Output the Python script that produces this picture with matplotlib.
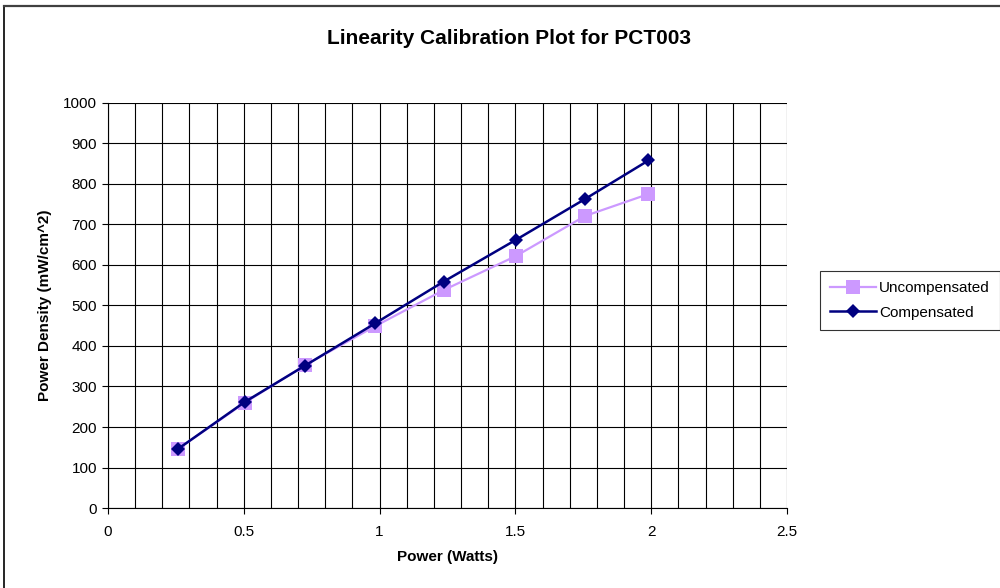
import matplotlib
matplotlib.use("Agg")
import matplotlib.pyplot as plt
from matplotlib.lines import Line2D
from matplotlib.ticker import MultipleLocator

plt.rcParams['font.family'] = ['Liberation Sans', 'DejaVu Sans']

# --- DATA ---
power_watts = [0.256, 0.504, 0.724, 0.984, 1.236, 1.502, 1.757, 1.990]
uncompensated = [145, 260, 352, 449, 538, 622, 721, 775]
compensated = [145, 262, 351, 456, 559, 662, 763, 858]

TITLE = "Linearity Calibration Plot for PCT003"
XLABEL = "Power (Watts)"
YLABEL = "Power Density (mW/cm^2)"

fig = plt.figure(figsize=(10, 5.88), dpi=100)
ax = fig.add_axes([0.108, 0.136, 0.679, 0.689])

# Excel-like grid: every 0.1 W and every 100 mW/cm^2
ax.set_xlim(0, 2.5)
ax.set_ylim(0, 1000)
ax.xaxis.set_major_locator(MultipleLocator(0.5))
ax.xaxis.set_minor_locator(MultipleLocator(0.1))
ax.yaxis.set_major_locator(MultipleLocator(100))
ax.grid(which='both', axis='x', color='black', linewidth=0.8)
ax.grid(which='major', axis='y', color='black', linewidth=0.8)
ax.set_axisbelow(True)
ax.tick_params(which='minor', length=0)
ax.tick_params(which='major', direction='out', length=4, width=0.8, labelsize=11, colors='black')
ax.tick_params(axis='x', pad=8)
ax.tick_params(axis='y', pad=4)
ax.xaxis.set_major_formatter(plt.FuncFormatter(lambda v, p: f"{v:g}"))

for side in ['top', 'right']:
    ax.spines[side].set_visible(False)
for side in ['left', 'bottom']:
    ax.spines[side].set_linewidth(0.8)

ax.plot(power_watts, uncompensated, color='#CC99FF', linewidth=1.6,
        marker='s', markersize=9.5, markeredgewidth=0, label='Uncompensated', zorder=3)
ax.plot(power_watts, compensated, color='#000080', linewidth=1.8,
        marker='D', markersize=7.5, markeredgewidth=0, label='Compensated', zorder=4)

ax.set_xlabel(XLABEL, fontsize=11, fontweight='bold')
ax.set_ylabel(YLABEL, fontsize=11, fontweight='bold')
ax.xaxis.set_label_coords(0.5, -0.103)
ax.yaxis.set_label_coords(-0.083, 0.5)

fig.text(0.509, 0.935, TITLE, ha='center', va='center', fontsize=15, fontweight='bold')

leg = fig.legend(loc='upper left', bbox_to_anchor=(0.820, 1 - 271 / 588), fontsize=11,
                 frameon=True, fancybox=False, edgecolor='black', handlelength=3.0,
                 handletextpad=0.2, borderpad=0.65, labelspacing=0.7, borderaxespad=0)
leg.get_frame().set_linewidth(0.8)

# chart-area border (only left and top edges visible in the picture)
fig.add_artist(Line2D([0.0035, 0.0035], [0.0, 1 - 6 / 588], color='black', linewidth=1.2,
                      transform=fig.transFigure))
fig.add_artist(Line2D([0.0035, 1.0], [1 - 6 / 588, 1 - 6 / 588], color='#404040', linewidth=1.6,
                      transform=fig.transFigure))

fig.savefig("out.png", dpi=100, facecolor='white')
